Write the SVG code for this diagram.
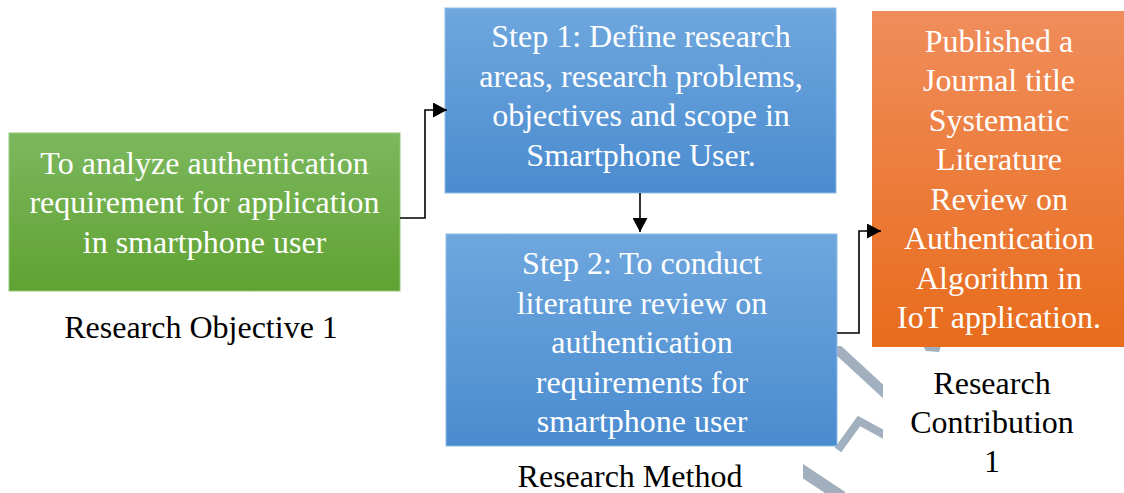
<svg xmlns="http://www.w3.org/2000/svg" width="1124" height="493" viewBox="0 0 1124 493">
  <defs>
    <linearGradient id="gGreen" x1="0" y1="0" x2="0" y2="1">
      <stop offset="0" stop-color="#7cb85e"/>
      <stop offset="1" stop-color="#60a232"/>
    </linearGradient>
    <linearGradient id="gBlue" x1="0" y1="0" x2="0" y2="1">
      <stop offset="0" stop-color="#6fa7de"/>
      <stop offset="1" stop-color="#4a8bcf"/>
    </linearGradient>
    <linearGradient id="gOrange" x1="0" y1="0" x2="0" y2="1">
      <stop offset="0" stop-color="#f08d5b"/>
      <stop offset="1" stop-color="#e86c1c"/>
    </linearGradient>
    <marker id="arrow" viewBox="0 0 14 15" refX="14" refY="7.5" markerWidth="14" markerHeight="15" markerUnits="userSpaceOnUse" orient="auto">
      <path d="M0,0 L14,7.5 L0,15 Z" fill="#000"/>
    </marker>
    <clipPath id="wmClip">
      <rect x="803" y="346" width="80" height="147"/>
    </clipPath>
  </defs>
  <style>
    .box-text { font-family: "Liberation Serif", "Times New Roman", serif; font-size: 32px; fill: #ffffff; text-anchor: middle; }
    .label { font-family: "Liberation Serif", "Times New Roman", serif; font-size: 32px; fill: #000000; text-anchor: middle; }
    .conn { fill: none; stroke: #000; stroke-width: 1.6; }
    .wm { fill: none; stroke: #8a9cae; stroke-linecap: butt; }
  </style>

  <rect width="1124" height="493" fill="#ffffff"/>

  <!-- faint background watermark strokes -->
  <g id="watermark" opacity="0.8">
    <g clip-path="url(#wmClip)">
      <path class="wm" d="M836,348 L888,396" stroke-width="10"/>
      <path class="wm" d="M838,450 L859,421 L890,438" stroke-width="8"/>
      <path class="wm" d="M798,468 L842,497" stroke-width="12"/>
    </g>
    <path d="M923,346 L941,346 L939,352 L926,351 Z" fill="#8a9cae"/>
  </g>

  <g id="objective">
    <rect x="9" y="133" width="391" height="158" fill="url(#gGreen)" stroke="#93c979" stroke-width="1"/>
    <text class="box-text" x="204.5" y="173.5">To analyze authentication</text>
    <text class="box-text" x="204.5" y="213">requirement for application</text>
    <text class="box-text" x="204.5" y="252.5">in smartphone user</text>
  </g>

  <g id="step1">
    <rect x="445" y="8" width="391" height="185" fill="url(#gBlue)" stroke="#8dbbe6" stroke-width="1"/>
    <text class="box-text" x="641" y="47">Step 1: Define research</text>
    <text class="box-text" x="641" y="86.5">areas, research problems,</text>
    <text class="box-text" x="641" y="126">objectives and scope in</text>
    <text class="box-text" x="641" y="165.5">Smartphone User.</text>
  </g>

  <g id="step2">
    <rect x="446" y="234" width="391" height="212" fill="url(#gBlue)" stroke="#8dbbe6" stroke-width="1"/>
    <text class="box-text" x="642" y="274.3">Step 2: To conduct</text>
    <text class="box-text" x="642" y="313.5">literature review on</text>
    <text class="box-text" x="642" y="353">authentication</text>
    <text class="box-text" x="642" y="392.5">requirements for</text>
    <text class="box-text" x="642" y="432">smartphone user</text>
  </g>

  <g id="contribution">
    <rect x="872" y="11" width="252" height="336" fill="url(#gOrange)"/>
    <text class="box-text" x="999" y="51.5">Published a</text>
    <text class="box-text" x="999" y="91">Journal title</text>
    <text class="box-text" x="999" y="130.5">Systematic</text>
    <text class="box-text" x="999" y="170">Literature</text>
    <text class="box-text" x="999" y="209.5">Review on</text>
    <text class="box-text" x="999" y="249">Authentication</text>
    <text class="box-text" x="999" y="288.5">Algorithm in</text>
    <text class="box-text" x="999" y="328">IoT application.</text>
  </g>

  <!-- connectors drawn over the boxes so the arrowheads stay visible -->
  <g id="connectors">
    <path class="conn" d="M400,218 H425 V110 H447" marker-end="url(#arrow)"/>
    <path class="conn" d="M640,193 V232" marker-end="url(#arrow)"/>
    <path class="conn" d="M837,333 H859 V231 H881" marker-end="url(#arrow)"/>
  </g>

  <g id="labels">
    <text class="label" x="201" y="338">Research Objective 1</text>
    <text class="label" x="630" y="487">Research Method</text>
    <text class="label" x="992" y="394">Research</text>
    <text class="label" x="992" y="433">Contribution</text>
    <text class="label" x="992" y="472">1</text>
  </g>
</svg>
